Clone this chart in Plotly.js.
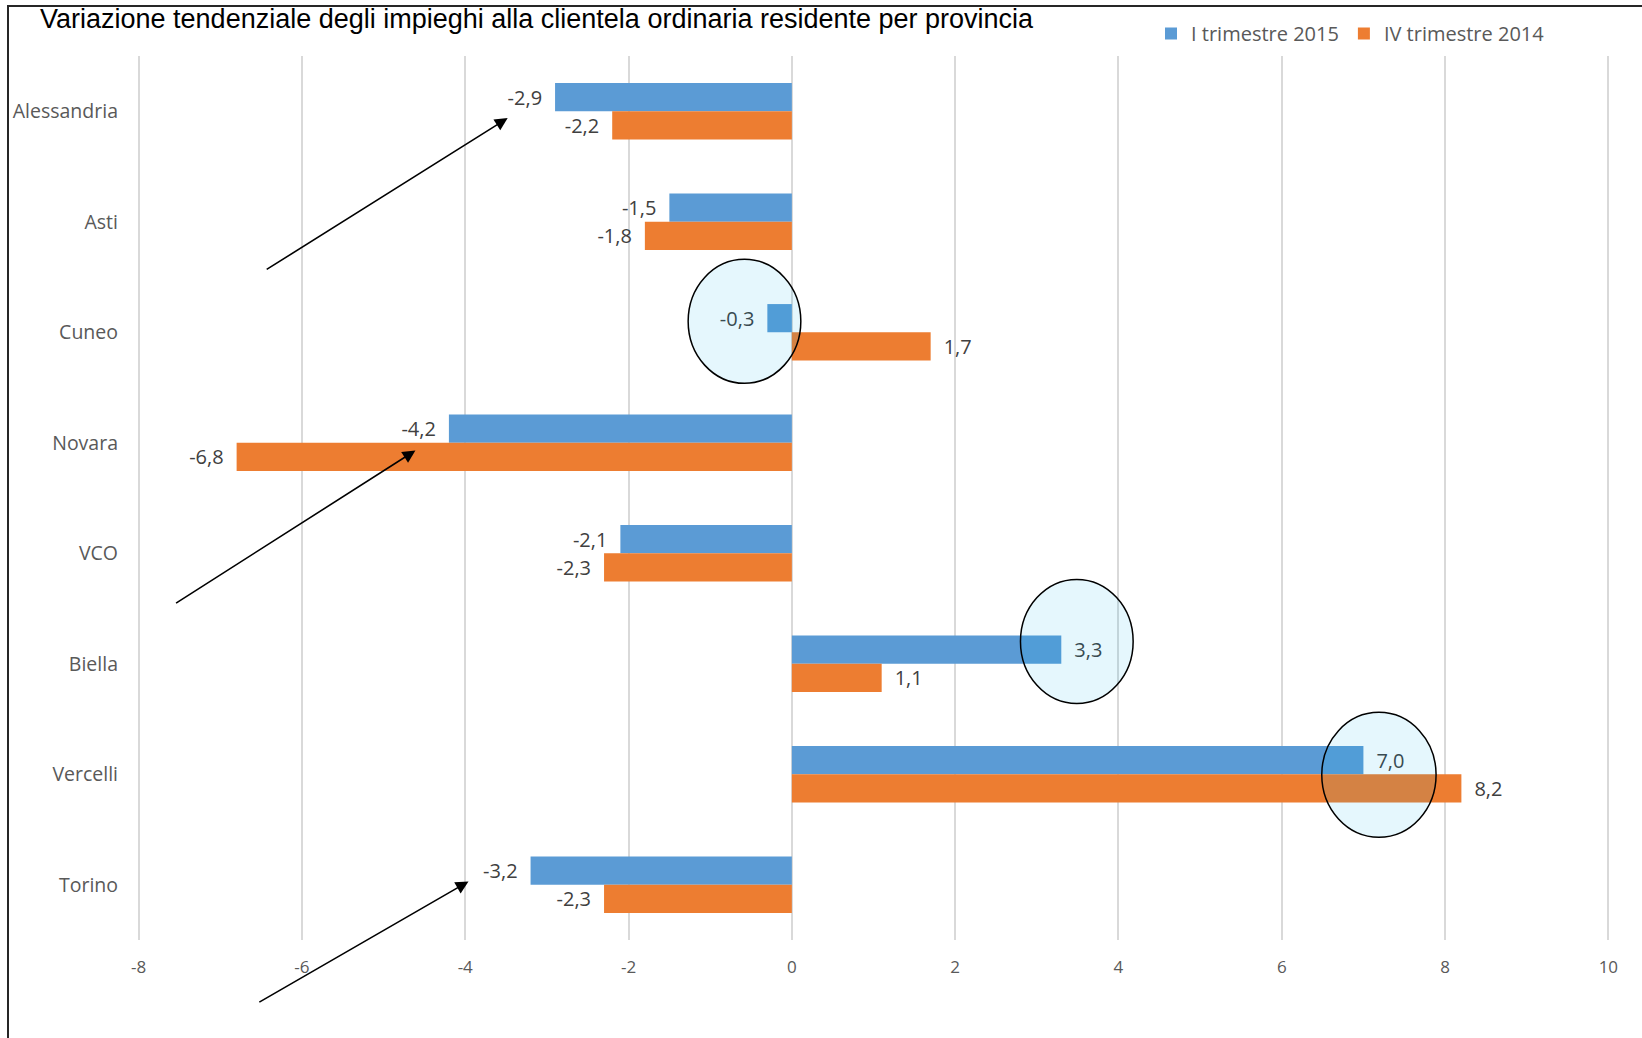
<!DOCTYPE html>
<html>
<head>
<meta charset="utf-8">
<script src="https://cdn.plot.ly/plotly-3.0.1.min.js"></script>
<style>html,body{margin:0;padding:0;background:#fff;}#chart{width:1642px;height:1038px;}</style>
</head>
<body>
<div id="chart"></div>
<script>
const categories = ["Alessandria", "Asti", "Cuneo", "Novara", "VCO", "Biella", "Vercelli", "Torino"];
const seriesNames = ["I trimestre 2015", "IV trimestre 2014"];
const q1_2015 = [-2.9, -1.5, -0.3, -4.2, -2.1, 3.3, 7.0, -3.2];
const q4_2014 = [-2.2, -1.8, 1.7, -6.8, -2.3, 1.1, 8.2, -2.3];
const tickValues = [-8, -6, -4, -2, 0, 2, 4, 6, 8, 10];
const tickLabels = ["-8", "-6", "-4", "-2", "0", "2", "4", "6", "8", "10"];
const titleText = "Variazione tendenziale degli impieghi alla clientela ordinaria residente per provincia";

const SP = '\u2002';
const fmt = v => {
  const s = v.toFixed(1).replace('.', ',');
  return v < 0 ? s + SP : SP + s;
};
const FONT = "Open Sans, Noto Sans, sans-serif";

const traces = [
  {type: 'bar', orientation: 'h', name: seriesNames[0], y: categories, x: q1_2015,
   marker: {color: '#5B9BD5'}, text: q1_2015.map(fmt), textposition: 'outside',
   textfont: {color: '#404040', size: 20, family: FONT}, cliponaxis: false, hoverinfo: 'x+y'},
  {type: 'bar', orientation: 'h', name: seriesNames[1], y: categories, x: q4_2014,
   marker: {color: '#ED7D31'}, text: q4_2014.map(fmt), textposition: 'outside',
   textfont: {color: '#404040', size: 20, family: FONT}, cliponaxis: false, hoverinfo: 'x+y'}
];

const circle = (x0, x1, y0, y1) => ({type: 'circle', xref: 'x', yref: 'y', x0, x1, y0, y1,
  fillcolor: 'rgba(0,176,240,0.1)', line: {color: '#000', width: 1.5}, layer: 'above'});
const arrow = (x, y, ax, ay) => ({xref: 'x', yref: 'y', axref: 'x', ayref: 'y', x, y, ax, ay,
  text: '', showarrow: true, arrowhead: 2, arrowsize: 1.6, arrowwidth: 1.6, arrowcolor: '#000'});

const PW = 1642 - 137 - 32, PH = 1038 - 56 - 98;

const layout = {
  width: 1642, height: 1038,
  paper_bgcolor: '#fff', plot_bgcolor: '#fff',
  margin: {l: 137, r: 32, t: 56, b: 98},
  barmode: 'group', bargap: 0.49, bargroupgap: 0,
  separators: ',.',
  font: {family: FONT, color: '#595959'},
  title: {text: titleText, font: {family: 'Liberation Sans Narrow, Liberation Sans, sans-serif', size: 27, color: '#000'},
    xref: 'container', x: 40/1642, xanchor: 'left', yref: 'container', y: 1 - 19/1038, yanchor: 'middle'},
  xaxis: {range: [-8.02, 10.02], tickvals: tickValues, ticktext: tickLabels, showgrid: true,
    gridcolor: '#D9D9D9', gridwidth: 2, zeroline: false, showline: false, ticks: '',
    tickfont: {size: 17, color: '#595959', family: FONT}, ticklabelstandoff: 15, fixedrange: true},
  yaxis: {type: 'category', range: [7.5, -0.5], autorange: false, showgrid: false, zeroline: false, showline: false,
    ticks: '', tickfont: {size: 19.5, color: '#595959', family: FONT}, ticklabelstandoff: 18, fixedrange: true},
  legend: {orientation: 'h', x: (1151 - 137)/PW, xref: 'paper', y: 1 + (56 - 33.5)/PH, yanchor: 'middle',
    font: {size: 20, color: '#595959', family: FONT}, bgcolor: 'rgba(0,0,0,0)', traceorder: 'normal'},
  showlegend: true,
  shapes: [
    circle(-1.27, 0.11, 1.339, 2.462),
    circle(2.80, 4.18, 4.237, 5.36),
    circle(6.49, 7.89, 5.44, 6.57),
    {type: 'line', xref: 'paper', yref: 'paper', x0: -129/PW, x1: -129/PW, y0: 1 + 51/PH, y1: -98/PH,
      line: {color: '#262626', width: 2}},
    {type: 'line', xref: 'paper', yref: 'paper', x0: -129/PW, x1: 1 + 32/PW, y0: 1 + 50/PH, y1: 1 + 50/PH,
      line: {color: '#262626', width: 2}}
  ],
  annotations: [
    arrow(-3.48, 0.062, -6.45, 1.44),
    arrow(-4.61, 3.07, -7.56, 4.46),
    arrow(-3.96, 6.97, -6.54, 8.07)
  ]
};

Plotly.newPlot('chart', traces, layout, {displayModeBar: false, staticPlot: true});
</script>
</body>
</html>
